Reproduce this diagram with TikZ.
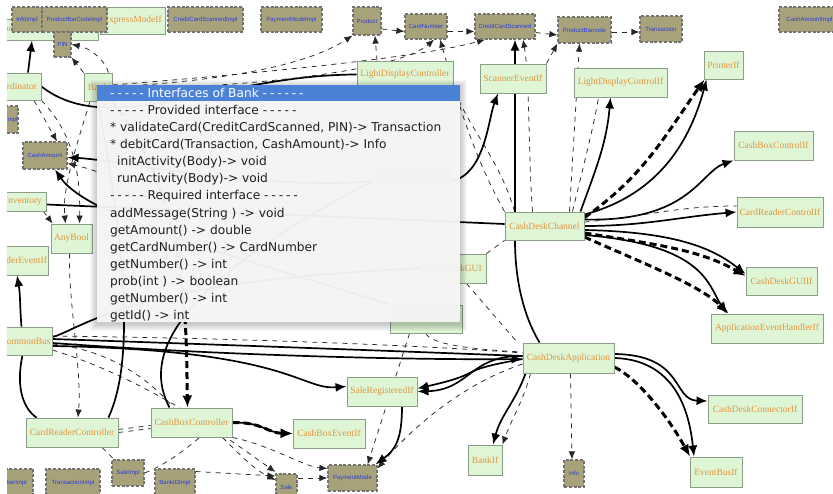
\documentclass[tikz,border=0pt]{standalone}
\usepackage{fontspec}
\newfontfamily\serfont{Liberation Serif}
\newfontfamily\sanfont{Liberation Sans}
\newfontfamily\popfont{DejaVu Sans}
\usetikzlibrary{arrows.meta,calc}
\pgfdeclarelayer{edges}
\pgfdeclarelayer{front}
\pgfsetlayers{edges,main,front}

\definecolor{gfill}{RGB}{222,246,214}
\definecolor{gborder}{RGB}{140,158,136}
\definecolor{gtext}{RGB}{228,148,62}
\definecolor{ifill}{RGB}{168,162,122}
\definecolor{iborder}{RGB}{115,115,115}
\definecolor{itext}{RGB}{40,60,230}
\definecolor{popbg}{RGB}{246,246,246}
\definecolor{titleblue}{RGB}{76,130,214}
\definecolor{poptext}{RGB}{30,30,30}

\tikzset{
  gnode/.style={draw=gborder, fill=gfill, text=gtext, inner sep=0pt, line width=0.9pt,
    font=\serfont\fontsize{9.5}{10}\selectfont},
  inode/.style={draw=iborder, dash pattern=on 3pt off 1.8pt, fill=ifill, text=itext,
    inner sep=0pt, line width=1.2pt, font=\sanfont\fontsize{6}{7}\selectfont},
  solidlink/.style={draw=black, line width=1.7pt},
  usesarrow/.style={solidlink, -{Latex[length=11pt,width=9pt]}},
  depplain/.style={draw=black!85, line width=0.75pt, dash pattern=on 5pt off 5pt},
  deparrow/.style={depplain, -{Latex[length=8pt,width=6.5pt]}},
  heavydash/.style={draw=black, line width=3pt, dash pattern=on 7pt off 4pt,
    -{Latex[length=12pt,width=10pt]}},
  popline/.style={anchor=base west, inner sep=0pt, text=poptext,
    font=\popfont\fontsize{12.2}{14}\selectfont},
}

% box given by its corners (x1,y1) (x2,y2), y measured downwards
\newcommand\greenbox[6]{\node[gnode,minimum width={(#4)-(#2)},minimum height={(#5)-(#3)}]
  (#1) at ({((#2)+(#4))/2},{((#3)+(#5))/2}) {#6};}
\newcommand\implbox[6]{\node[inode,minimum width={(#4)-(#2)},minimum height={(#5)-(#3)}]
  (#1) at ({((#2)+(#4))/2},{((#3)+(#5))/2}) {#6};}
\newcommand\pd{-\kern2.9pt}

\begin{document}
\begin{tikzpicture}[x=1pt,y=-1pt]
\useasboundingbox (0,0) rectangle (833,494);

% ---------- components and interfaces ----------
\greenbox{emai}{-8}{19}{98}{40}{ExpressModeApplicationIf}
\greenbox{emi}{100}{7}{165}{34}{ExpressModeIf}
\greenbox{coord}{-13}{73}{41}{100}{Coordinator}
\greenbox{bank}{84}{73}{112}{101}{Bank}
\greenbox{inventory}{1}{192}{46}{211}{Inventory}
\greenbox{anybool}{51}{224}{92}{253}{AnyBool}
\greenbox{erev}{-28}{246}{48}{275}{CardReaderEventIf}
\greenbox{commonbus}{-1}{327}{52}{355}{CommonBus}
\greenbox{crc}{26}{418}{118}{447}{CardReaderController}
\greenbox{cbc}{151}{408}{232}{437}{CashBoxController}
\greenbox{cbei}{293}{419}{365}{448}{CashBoxEventIf}
\greenbox{sri}{347}{377}{417}{406}{SaleRegisteredIf}
\greenbox{bankif}{468}{445}{502}{475}{BankIf}
\greenbox{cda}{523}{343}{614}{373}{CashDeskApplication}
\greenbox{cdci}{708}{395}{802}{423}{CashDeskConnectorIf}
\greenbox{ebi}{690}{457}{742}{487}{EventBusIf}
\greenbox{cdc}{505}{212}{584}{240}{CashDeskChannel}
\greenbox{crci}{737}{197}{823}{227}{CardReaderControlIf}
\greenbox{cdguiif}{746}{267}{817}{295}{CashDeskGUIIf}
\greenbox{aehi}{711}{314}{823}{343}{ApplicationEventHandlerIf}
\greenbox{cdgui}{422}{254}{486}{283}{CashDeskGUI}
\greenbox{pc}{390}{305}{462}{333}{PrinterController}
\greenbox{sc}{372}{168}{450}{195}{ScannerController}
\greenbox{ldc}{357}{61}{453}{88}{LightDisplayController}
\greenbox{sei}{480}{64}{546}{93}{ScannerEventIf}
\greenbox{ldci}{574}{68}{667}{97}{LightDisplayControlIf}
\greenbox{pif}{704}{51}{743}{79}{PrinterIf}
\greenbox{cbci}{734}{131}{813}{160}{CashBoxControlIf}

% ---------- data types ----------
\implbox{infoimpl}{12}{7}{42}{32}{InfoImpl}
\implbox{pbcimpl}{42}{7}{107}{32}{ProductBarCodeImpl}
\implbox{ccsimpl}{168}{7}{243}{32}{CreditCardScannedImpl}
\implbox{pmimpl}{261}{7}{322}{32}{PaymentModeImpl}
\implbox{pin}{54}{32}{71}{57}{PIN}
\implbox{product}{353}{7}{381}{35}{Product}
\implbox{cardnumber}{405}{14}{447}{39}{CardNumber}
\implbox{ccs}{475}{14}{535}{39}{CreditCardScanned}
\implbox{pbarcode}{558}{17}{611}{43}{ProductBarcode}
\implbox{transaction}{640}{16}{682}{42}{Transaction}
\implbox{caimpl}{779}{7}{840}{32}{CashAmountImpl}
\implbox{leftimpl}{-22}{106}{18}{133}{CashDeskImpl}
\implbox{cashamount}{23}{142}{67}{169}{CashAmount}
\implbox{cnimpl}{-25}{469}{33}{496}{CardNumberImpl}
\implbox{timpl}{46}{469}{100}{496}{TransactionImpl}
\implbox{saleimpl}{112}{460}{144}{486}{SaleImpl}
\implbox{bidimpl}{155}{469}{195}{496}{BankIDImpl}
\implbox{sale}{276}{474}{297}{500}{Sale}
\implbox{paymentmode}{328}{465}{377}{491}{PaymentMode}
\implbox{info}{564}{460}{584}{487}{Info}

% ---------- connectors ----------
\begin{pgfonlayer}{edges}
% CashDeskChannel
\draw[usesarrow] ([xshift=-4pt]cdc.north east) to[out=70,in=-95] ([xshift=-10pt]ldci.south);
\draw[usesarrow] ([yshift=-3pt]cdc.north east) to[out=15,in=-105] ([xshift=3pt]pif.south west);
\draw[heavydash] ([yshift=-6pt]cdc.north east) to[out=35,in=-125] ([xshift=1pt]pif.south west);
\draw[usesarrow] ([yshift=-8pt]cdc.north east) .. controls (690,222) and (700,172) .. (cbci.south west);
\draw[usesarrow] (cdc.east) to[out=0,in=185] (crci.west);
\draw[depplain] ([yshift=4pt]cdc.east) to[out=5,in=180] ([yshift=6pt]crci.west);
\draw[usesarrow] ([yshift=-4pt]cdc.east) .. controls (680,232) and (715,250) .. ([yshift=7pt]cdguiif.west);
\draw[heavydash] ([yshift=-7pt]cdc.east) .. controls (660,245) and (700,250) .. ([yshift=5pt]cdguiif.west);
\draw[heavydash] ([yshift=-11pt]cdc.east) .. controls (640,262) and (700,285) .. ([xshift=18pt]aehi.north west);
\draw[usesarrow] ([yshift=-9pt]cdc.east) .. controls (705,245) and (708,285) .. ([xshift=16pt]aehi.north west);
\draw[deparrow] ([xshift=25pt]cdc.north) -- ([xshift=-5pt]pbarcode.south);
\draw[deparrow] ([xshift=-12pt]cdc.north) .. controls (528,150) and (530,80) .. ([xshift=18pt]ccs.south);
\draw[deparrow] (cdc.north west) .. controls (470,150) and (455,90) .. ([xshift=14pt]cardnumber.south);
\draw[depplain] ([xshift=-12pt]cdc.north east) .. controls (585,160) and (595,120) .. ([xshift=-22pt]ldci.south);
\draw[depplain] ([xshift=10pt]cdc.north west) .. controls (500,160) and (470,130) .. (ldc.south east);
\draw[deparrow] (sei.north east) -- (pbarcode.south west);
\draw[usesarrow] (sc.east) .. controls (485,175) and (488,120) .. ([xshift=-15pt]sei.south);

% CashDeskApplication
\draw[usesarrow] ([xshift=17pt]cda.north west) .. controls (520,310) and (515,270)
  .. ($(ccs.south |- cdc.south)+(10,0)$) -- ([xshift=10pt]ccs.south);
\draw[usesarrow] ([yshift=4pt]cda.east) .. controls (685,355) and (672,400) .. ([yshift=8pt]cdci.west);
\draw[usesarrow] (cda.east) .. controls (680,360) and (690,420) .. ([xshift=-22pt]ebi.north);
\draw[heavydash] ([yshift=-9pt]cda.east) .. controls (640,380) and (670,420) .. ([xshift=-26pt]ebi.north);
\draw[deparrow] ([xshift=2pt]cda.south) -- ([xshift=-2pt]info.north);
\draw[usesarrow] ([xshift=3pt]cda.south west) to[out=-110,in=75] ([xshift=8pt]bankif.north);
\draw[deparrow] ([xshift=8pt]cda.south west) to[out=-105,in=70] (bankif.north east);
\draw[usesarrow] ([yshift=2pt]cda.west) .. controls (470,355) and (470,390) .. (sri.east);
\draw[usesarrow] ([yshift=-1pt]cda.west) .. controls (450,372) and (490,372) .. ([yshift=3pt]sri.east);
\draw[deparrow] ([yshift=-6pt]cda.west) .. controls (460,385) and (410,430) .. ([yshift=-4pt]paymentmode.north east);
\draw[depplain] ([xshift=-20pt]cdgui.south east) -- ([xshift=-5pt]cda.north west);
\draw[depplain] (cdgui.north east) -- (cdc.south west);
\draw[depplain] (pc.south) .. controls (430,345) and (480,350) .. ([yshift=6pt]cda.west);

% CommonBus
\draw[solidlink] ([yshift=2pt]commonbus.east) .. controls (230,345) and (420,352) .. ([yshift=2pt]cda.west);
\draw[usesarrow] ([yshift=-2pt]commonbus.east) .. controls (230,356) and (420,360) .. ([yshift=-1pt]cda.west);
\draw[depplain] ([yshift=5pt]commonbus.east) .. controls (230,338) and (420,345) .. ([yshift=5pt]cda.west);
\draw[usesarrow] ([yshift=-5pt]commonbus.east) .. controls (290,350) and (300,390) .. ([yshift=5pt]sri.west);
\draw[usesarrow] ([xshift=-4pt]commonbus.north) to[out=95,in=-80] ([xshift=7pt]erev.south);
\draw[solidlink] ([xshift=-3pt]commonbus.south) .. controls (15,390) and (25,410) .. ([xshift=11pt]crc.north west);
\draw[solidlink] ([yshift=4pt]commonbus.east) .. controls (80,330) and (130,280) .. (cdgui.west);
\draw[deparrow] ([yshift=-9pt]commonbus.east) .. controls (150,380) and (230,440) .. ([yshift=15pt]sale.west);
\draw[depplain] ([yshift=-3pt]commonbus.east) .. controls (110,350) and (150,380) .. ([xshift=-18pt]cbc.north);

% controllers
\draw[solidlink] ([xshift=-10pt]crc.north east) .. controls (135,360) and (125,250) .. (bank.south);
\draw[solidlink] ([xshift=-22pt]cbc.north) .. controls (150,370) and (145,300) .. (sc.west);
\draw[heavydash] (bank.south east) .. controls (190,200) and (186,330) .. ([xshift=-4pt]cbc.north);
\draw[usesarrow] (cbc.east) .. controls (262,422) and (268,433) .. (cbei.west);
\draw[heavydash] (cbc.east) .. controls (262,422) and (268,433) .. (cbei.west);
\draw[depplain] ([yshift=3pt]crc.east) -- ([yshift=-3pt]cbc.west);
\draw[depplain] (crc.east) -- ([yshift=-6pt]cbc.west);
\draw[depplain] ([xshift=30pt]crc.south) -- ([xshift=-14pt]saleimpl.north);
\draw[depplain] (saleimpl.east) .. controls (165,465) and (185,450) .. ([xshift=8pt]cbc.south);
\draw[deparrow] (cbc.south east) .. controls (270,445) and (305,467) .. ([yshift=-4pt]paymentmode.north west);
\draw[deparrow] ([xshift=-10pt]cbc.south east) .. controls (240,455) and (255,470) .. ([yshift=7pt]sale.west);
\draw[deparrow] ([yshift=11pt]bidimpl.east) -- ([yshift=11pt]sale.west);
\draw[deparrow] ([yshift=9pt]sale.east) -- (paymentmode.west);
\draw[usesarrow] ([xshift=20pt]sri.south) .. controls (402,440) and (395,450) .. ([xshift=-2pt]paymentmode.north east);
\draw[deparrow] ([xshift=20pt]pc.south west) -- ([xshift=-10pt]paymentmode.north east);

% left side
\draw[solidlink] ([yshift=-3pt]inventory.east) -- ([yshift=2pt]cdc.west);
\draw[deparrow] ([xshift=-3pt]inventory.south east) -- ([xshift=2pt]anybool.north west);
\draw[usesarrow] ([xshift=14pt]coord.north) -- ([xshift=-13pt]emai.south);
\draw[solidlink] (coord.east) .. controls (110,140) and (220,75) .. (ldc.west);
\draw[deparrow] ([xshift=20pt]coord.south) -- ([xshift=12pt]cashamount.north);
\draw[deparrow] (coord.south east) .. controls (80,140) and (80,190) .. ([xshift=8pt]anybool.north);
\draw[deparrow] ([xshift=-8pt]bank.south) .. controls (75,150) and (62,190) .. ([xshift=-6pt]anybool.north);
\draw[deparrow] ([xshift=-2pt]anybool.south) .. controls (68,300) and (82,370) .. ([xshift=6pt]crc.north);
\draw[usesarrow] (sc.west) .. controls (250,190) and (120,160) .. ([yshift=-2pt]cashamount.east);
\draw[usesarrow] (pc.north west) .. controls (250,260) and (90,220) .. ([xshift=10pt]cashamount.south);
\draw[deparrow] (cdgui.west) .. controls (250,240) and (120,175) .. ([yshift=-8pt]cashamount.east);

% Bank and the data types at the top
\draw[deparrow] (bank.north west) -- (pin.south east);
\draw[deparrow] ([xshift=-4pt]bank.north east) .. controls (105,60) and (90,48) .. (pin.east);
\draw[deparrow] (bank.east) .. controls (200,82) and (300,70) .. (product.south west);
\draw[deparrow] ([yshift=-2pt]bank.east) .. controls (250,88) and (400,70) .. ([xshift=8pt]cardnumber.south);
\draw[deparrow] ([yshift=2pt]bank.east) .. controls (300,70) and (430,55) .. ([xshift=-20pt]ccs.south);
\draw[deparrow] ([xshift=-28pt]ldc.north) -- ([xshift=8pt]product.south);
\draw[deparrow] ([yshift=-8pt]product.east) -- ([yshift=-5pt]cardnumber.west);
\draw[deparrow] ([yshift=-5pt]cardnumber.east) -- ([yshift=-5pt]ccs.west);
\draw[deparrow] ([yshift=-6pt]ccs.east) -- ([yshift=-5pt]pbarcode.west);
\draw[deparrow] ([yshift=-2pt]pbarcode.east) -- ([yshift=-3pt]transaction.west);
\end{pgfonlayer}

% ---------- tooltip with the interfaces of Bank ----------
\begin{pgfonlayer}{front}
\foreach \s in {1,...,7} {
  \fill[black, opacity=0.03] ({97-\s},{85-\s+2}) rectangle ({460+\s},{322+\s+2});
}
\fill[popbg, opacity=0.96] (97,85) rectangle (460,322);
\fill[titleblue] (97,85) rectangle (460,101);
\node[popline, text=white] (ptitle) at (110,97.5) {\pd\pd\pd\pd- Interfaces of Bank \pd\pd\pd\pd\pd-};
\node[popline] (pl1)  at (110,114.6) {\pd\pd\pd\pd- Provided interface \pd\pd\pd\pd-};
\node[popline] (pl2)  at (110,131.7) {* validateCard(CreditCardScanned, PIN)-> Transaction};
\node[popline] (pl3)  at (110,148.7) {* debitCard(Transaction, CashAmount)-> Info};
\node[popline] (pl4)  at (117,165.8) {initActivity(Body)-> void};
\node[popline] (pl5)  at (117,182.9) {runActivity(Body)-> void};
\node[popline] (pl6)  at (110,200.0) {\pd\pd\pd\pd- Required interface \pd\pd\pd\pd-};
\node[popline] (pl7)  at (110,217.1) {addMessage(String ) -> void};
\node[popline] (pl8)  at (110,234.1) {getAmount() -> double};
\node[popline] (pl9)  at (110,251.2) {getCardNumber() -> CardNumber};
\node[popline] (pl10) at (110,268.3) {getNumber() -> int};
\node[popline] (pl11) at (110,285.4) {prob(int ) -> boolean};
\node[popline] (pl12) at (110,302.5) {getNumber() -> int};
\node[popline] (pl13) at (110,319.5) {getId() -> int};
% edge of the drawing panel
\fill[white] (-60,-10) rectangle (7,510);
\end{pgfonlayer}
\end{tikzpicture}
\end{document}
